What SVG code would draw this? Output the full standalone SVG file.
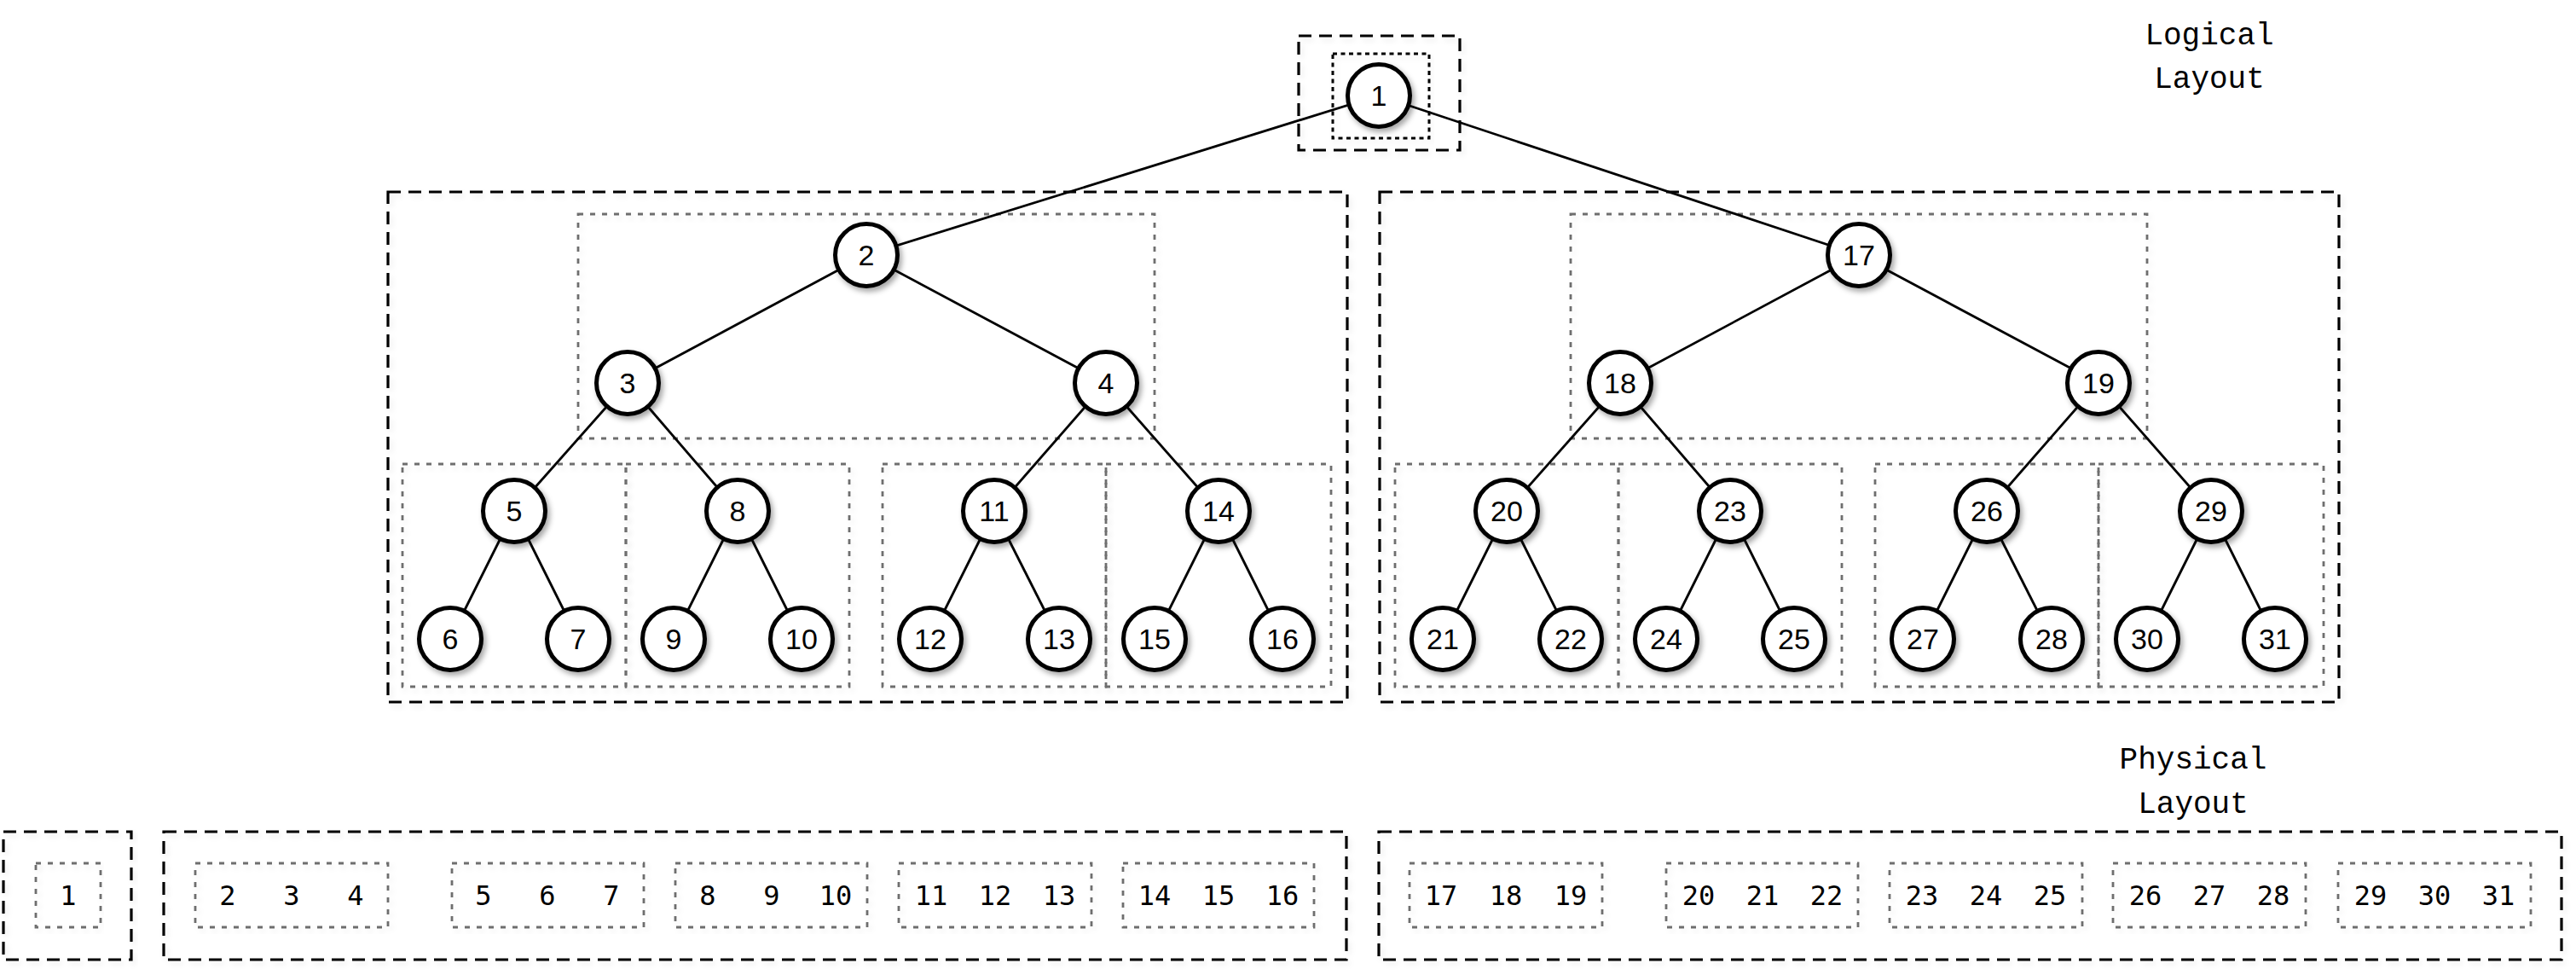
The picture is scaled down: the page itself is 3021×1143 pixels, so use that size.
<svg xmlns="http://www.w3.org/2000/svg" width="3021" height="1143" viewBox="0 0 3021 1143">
  <defs>
    <filter id="nodeShadow" x="-30%" y="-30%" width="170%" height="170%">
      <feDropShadow dx="3" dy="4" stdDeviation="3" flood-color="#000" flood-opacity="0.35"/>
    </filter>
    <filter id="boxShadow" x="-5%" y="-5%" width="110%" height="115%">
      <feDropShadow dx="3" dy="4" stdDeviation="3" flood-color="#000" flood-opacity="0.08"/>
    </filter>
  </defs>
  <style>
    .bg { fill: #ffffff; }
    .outer { fill: none; stroke: #000; stroke-width: 3.2; stroke-dasharray: 15 9; filter: url(#boxShadow); }
    .innerDark { fill: none; stroke: #000; stroke-width: 3; stroke-dasharray: 5 4.5; filter: url(#boxShadow); }
    .group { fill: none; stroke: #6e6e6e; stroke-width: 2.8; stroke-dasharray: 6 8; filter: url(#boxShadow); }
    .edge { stroke: #000; stroke-width: 2.8; fill: none; }
    .node circle { fill: #fff; stroke: #000; stroke-width: 5; filter: url(#nodeShadow); }
    .node text { font-family: "Liberation Sans", Arial, sans-serif; font-size: 34px; text-anchor: middle; fill: #000; }
    .cell { font-family: "DejaVu Sans Mono", "Liberation Mono", monospace; font-size: 32px; text-anchor: middle; fill: #000; }
    .caption { font-family: "Liberation Mono", "Courier New", monospace; font-size: 36px; text-anchor: middle; fill: #000; }
  </style>

  <rect class="bg" x="0" y="0" width="3021" height="1143"/>

  <!-- captions -->
  <g id="caption-logical">
    <text class="caption" x="2591" y="52">Logical</text>
    <text class="caption" x="2591" y="103">Layout</text>
  </g>
  <g id="caption-physical">
    <text class="caption" x="2572" y="901">Physical</text>
    <text class="caption" x="2572" y="953">Layout</text>
  </g>

  <!-- logical layout: block boundaries -->
  <g id="logical-blocks">
    <rect class="outer" x="1523" y="42" width="189" height="134"/>
    <rect class="innerDark" x="1563" y="63" width="113" height="99"/>

    <rect class="outer" x="455" y="225" width="1125" height="598"/>
    <rect class="outer" x="1618" y="225" width="1125" height="598"/>

    <rect class="group" x="678" y="251" width="676" height="263"/>
    <rect class="group" x="1842" y="251" width="676" height="263"/>

    <rect class="group" x="472" y="544" width="262" height="261"/>
    <rect class="group" x="734" y="544" width="262" height="261"/>
    <rect class="group" x="1035" y="544" width="262" height="261"/>
    <rect class="group" x="1297" y="544" width="264" height="261"/>

    <rect class="group" x="1636" y="544" width="262" height="261"/>
    <rect class="group" x="1898" y="544" width="262" height="261"/>
    <rect class="group" x="2199" y="544" width="262" height="261"/>
    <rect class="group" x="2461" y="544" width="264" height="261"/>
  </g>

  <!-- tree edges -->
  <g id="connectors">
    <line class="edge" x1="1617" y1="112" x2="1016" y2="299"/>
    <line class="edge" x1="1617" y1="112" x2="2180" y2="299"/>

    <line class="edge" x1="1016" y1="299" x2="736" y2="449"/>
    <line class="edge" x1="1016" y1="299" x2="1297" y2="449"/>
    <line class="edge" x1="736" y1="449" x2="603" y2="599"/>
    <line class="edge" x1="736" y1="449" x2="865" y2="599"/>
    <line class="edge" x1="1297" y1="449" x2="1166" y2="599"/>
    <line class="edge" x1="1297" y1="449" x2="1429" y2="599"/>
    <line class="edge" x1="603" y1="599" x2="528" y2="749"/>
    <line class="edge" x1="603" y1="599" x2="678" y2="749"/>
    <line class="edge" x1="865" y1="599" x2="790" y2="749"/>
    <line class="edge" x1="865" y1="599" x2="940" y2="749"/>
    <line class="edge" x1="1166" y1="599" x2="1091" y2="749"/>
    <line class="edge" x1="1166" y1="599" x2="1242" y2="749"/>
    <line class="edge" x1="1429" y1="599" x2="1354" y2="749"/>
    <line class="edge" x1="1429" y1="599" x2="1504" y2="749"/>

    <line class="edge" x1="2180" y1="299" x2="1900" y2="449"/>
    <line class="edge" x1="2180" y1="299" x2="2461" y2="449"/>
    <line class="edge" x1="1900" y1="449" x2="1767" y2="599"/>
    <line class="edge" x1="1900" y1="449" x2="2029" y2="599"/>
    <line class="edge" x1="2461" y1="449" x2="2330" y2="599"/>
    <line class="edge" x1="2461" y1="449" x2="2593" y2="599"/>
    <line class="edge" x1="1767" y1="599" x2="1692" y2="749"/>
    <line class="edge" x1="1767" y1="599" x2="1842" y2="749"/>
    <line class="edge" x1="2029" y1="599" x2="1954" y2="749"/>
    <line class="edge" x1="2029" y1="599" x2="2104" y2="749"/>
    <line class="edge" x1="2330" y1="599" x2="2255" y2="749"/>
    <line class="edge" x1="2330" y1="599" x2="2406" y2="749"/>
    <line class="edge" x1="2593" y1="599" x2="2518" y2="749"/>
    <line class="edge" x1="2593" y1="599" x2="2668" y2="749"/>
  </g>

  <!-- tree nodes -->
  <g id="n1" class="node"><circle cx="1617" cy="112" r="36.5"/><text x="1617" y="124">1</text></g>

  <g id="n2" class="node"><circle cx="1016" cy="299" r="36.5"/><text x="1016" y="311">2</text></g>
  <g id="n3" class="node"><circle cx="736" cy="449" r="36.5"/><text x="736" y="461">3</text></g>
  <g id="n4" class="node"><circle cx="1297" cy="449" r="36.5"/><text x="1297" y="461">4</text></g>
  <g id="n5" class="node"><circle cx="603" cy="599" r="36.5"/><text x="603" y="611">5</text></g>
  <g id="n6" class="node"><circle cx="528" cy="749" r="36.5"/><text x="528" y="761">6</text></g>
  <g id="n7" class="node"><circle cx="678" cy="749" r="36.5"/><text x="678" y="761">7</text></g>
  <g id="n8" class="node"><circle cx="865" cy="599" r="36.5"/><text x="865" y="611">8</text></g>
  <g id="n9" class="node"><circle cx="790" cy="749" r="36.5"/><text x="790" y="761">9</text></g>
  <g id="n10" class="node"><circle cx="940" cy="749" r="36.5"/><text x="940" y="761">10</text></g>
  <g id="n11" class="node"><circle cx="1166" cy="599" r="36.5"/><text x="1166" y="611">11</text></g>
  <g id="n12" class="node"><circle cx="1091" cy="749" r="36.5"/><text x="1091" y="761">12</text></g>
  <g id="n13" class="node"><circle cx="1242" cy="749" r="36.5"/><text x="1242" y="761">13</text></g>
  <g id="n14" class="node"><circle cx="1429" cy="599" r="36.5"/><text x="1429" y="611">14</text></g>
  <g id="n15" class="node"><circle cx="1354" cy="749" r="36.5"/><text x="1354" y="761">15</text></g>
  <g id="n16" class="node"><circle cx="1504" cy="749" r="36.5"/><text x="1504" y="761">16</text></g>

  <g id="n17" class="node"><circle cx="2180" cy="299" r="36.5"/><text x="2180" y="311">17</text></g>
  <g id="n18" class="node"><circle cx="1900" cy="449" r="36.5"/><text x="1900" y="461">18</text></g>
  <g id="n19" class="node"><circle cx="2461" cy="449" r="36.5"/><text x="2461" y="461">19</text></g>
  <g id="n20" class="node"><circle cx="1767" cy="599" r="36.5"/><text x="1767" y="611">20</text></g>
  <g id="n21" class="node"><circle cx="1692" cy="749" r="36.5"/><text x="1692" y="761">21</text></g>
  <g id="n22" class="node"><circle cx="1842" cy="749" r="36.5"/><text x="1842" y="761">22</text></g>
  <g id="n23" class="node"><circle cx="2029" cy="599" r="36.5"/><text x="2029" y="611">23</text></g>
  <g id="n24" class="node"><circle cx="1954" cy="749" r="36.5"/><text x="1954" y="761">24</text></g>
  <g id="n25" class="node"><circle cx="2104" cy="749" r="36.5"/><text x="2104" y="761">25</text></g>
  <g id="n26" class="node"><circle cx="2330" cy="599" r="36.5"/><text x="2330" y="611">26</text></g>
  <g id="n27" class="node"><circle cx="2255" cy="749" r="36.5"/><text x="2255" y="761">27</text></g>
  <g id="n28" class="node"><circle cx="2406" cy="749" r="36.5"/><text x="2406" y="761">28</text></g>
  <g id="n29" class="node"><circle cx="2593" cy="599" r="36.5"/><text x="2593" y="611">29</text></g>
  <g id="n30" class="node"><circle cx="2518" cy="749" r="36.5"/><text x="2518" y="761">30</text></g>
  <g id="n31" class="node"><circle cx="2668" cy="749" r="36.5"/><text x="2668" y="761">31</text></g>

  <!-- physical layout: storage blocks -->
  <g id="physical-blocks">
    <rect class="outer" x="4" y="975" width="150" height="150"/>
    <rect class="outer" x="192" y="975" width="1387" height="150"/>
    <rect class="outer" x="1617" y="975" width="1387" height="150"/>

    <rect class="group" x="42" y="1012" width="76" height="75"/>
    <rect class="group" x="229" y="1012" width="226" height="75"/>
    <rect class="group" x="530" y="1012" width="225" height="75"/>
    <rect class="group" x="792" y="1012" width="225" height="75"/>
    <rect class="group" x="1054" y="1012" width="226" height="75"/>
    <rect class="group" x="1317" y="1012" width="224" height="75"/>

    <rect class="group" x="1653" y="1012" width="226" height="75"/>
    <rect class="group" x="1954" y="1012" width="225" height="75"/>
    <rect class="group" x="2216" y="1012" width="226" height="75"/>
    <rect class="group" x="2478" y="1012" width="226" height="75"/>
    <rect class="group" x="2742" y="1012" width="226" height="75"/>
  </g>

  <g id="physical-cells">
    <text class="cell" x="80" y="1061">1</text>

    <text class="cell" x="267" y="1061">2</text>
    <text class="cell" x="342" y="1061">3</text>
    <text class="cell" x="417" y="1061">4</text>

    <text class="cell" x="567" y="1061">5</text>
    <text class="cell" x="642" y="1061">6</text>
    <text class="cell" x="717" y="1061">7</text>

    <text class="cell" x="830" y="1061">8</text>
    <text class="cell" x="905" y="1061">9</text>
    <text class="cell" x="980" y="1061">10</text>

    <text class="cell" x="1092" y="1061">11</text>
    <text class="cell" x="1167" y="1061">12</text>
    <text class="cell" x="1242" y="1061">13</text>

    <text class="cell" x="1354" y="1061">14</text>
    <text class="cell" x="1429" y="1061">15</text>
    <text class="cell" x="1504" y="1061">16</text>

    <text class="cell" x="1690" y="1061">17</text>
    <text class="cell" x="1766" y="1061">18</text>
    <text class="cell" x="1842" y="1061">19</text>

    <text class="cell" x="1992" y="1061">20</text>
    <text class="cell" x="2067" y="1061">21</text>
    <text class="cell" x="2142" y="1061">22</text>

    <text class="cell" x="2254" y="1061">23</text>
    <text class="cell" x="2329" y="1061">24</text>
    <text class="cell" x="2404" y="1061">25</text>

    <text class="cell" x="2516" y="1061">26</text>
    <text class="cell" x="2591" y="1061">27</text>
    <text class="cell" x="2666" y="1061">28</text>

    <text class="cell" x="2780" y="1061">29</text>
    <text class="cell" x="2855" y="1061">30</text>
    <text class="cell" x="2930" y="1061">31</text>
  </g>
</svg>
